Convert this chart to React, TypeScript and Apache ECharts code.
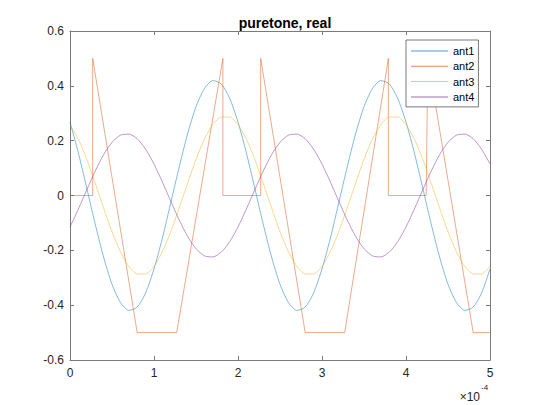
import React, { useEffect, useRef } from "react";
import * as echarts from "echarts";

const chartTitle = "puretone, real";
const seriesNames = ["ant1", "ant2", "ant3", "ant4"];
const seriesColors = ["#0072BD", "#D95319", "#EDB120", "#7E2F8E"];

// time in units of 1e-4 s
const timeAxis = [
  0, 0.1, 0.2, 0.3, 0.4, 0.5, 0.6, 0.7, 0.8, 0.9,
  1.0, 1.1, 1.2, 1.3, 1.4, 1.5, 1.6, 1.7, 1.8, 1.9,
  2.0, 2.1, 2.2, 2.3, 2.4, 2.5, 2.6, 2.7, 2.8, 2.9,
  3.0, 3.1, 3.2, 3.3, 3.4, 3.5, 3.6, 3.7, 3.8, 3.9,
  4.0, 4.1, 4.2, 4.3, 4.4, 4.5, 4.6, 4.7, 4.8, 4.9,
  5.0,
];

const ant1 = [
  0.268, 0.155, 0.026, -0.104, -0.225, -0.324, -0.39, -0.419, -0.407, -0.355,
  -0.268, -0.155, -0.026, 0.104, 0.225, 0.324, 0.39, 0.419, 0.407, 0.355,
  0.268, 0.155, 0.026, -0.104, -0.225, -0.324, -0.39, -0.419, -0.407, -0.355,
  -0.268, -0.155, -0.026, 0.104, 0.225, 0.324, 0.39, 0.419, 0.407, 0.355,
  0.268, 0.155, 0.026, -0.104, -0.225, -0.324, -0.39, -0.419, -0.407, -0.355,
  -0.268,
];

const ant2Time = [0, 0.27, 0.27, 0.8, 1.27, 1.82, 1.82, 2.27, 2.27, 2.8, 3.27, 3.79, 3.79, 4.24, 4.26, 4.8, 5.0];
const ant2 = [0, 0, 0.5, -0.5, -0.5, 0.5, 0, 0, 0.5, -0.5, -0.5, 0.5, 0, 0, 0.5, -0.5, -0.5];

const ant3 = [
  0.258, 0.205, 0.132, 0.045, -0.045, -0.132, -0.205, -0.258, -0.286, -0.286,
  -0.258, -0.205, -0.132, -0.045, 0.045, 0.132, 0.205, 0.258, 0.286, 0.286,
  0.258, 0.205, 0.132, 0.045, -0.045, -0.132, -0.205, -0.258, -0.286, -0.286,
  -0.258, -0.205, -0.132, -0.045, 0.045, 0.132, 0.205, 0.258, 0.286, 0.286,
  0.258, 0.205, 0.132, 0.045, -0.045, -0.132, -0.205, -0.258, -0.286, -0.286,
  -0.258,
];

const ant4 = [
  -0.115, -0.049, 0.021, 0.089, 0.149, 0.194, 0.22, 0.224, 0.207, 0.169,
  0.115, 0.049, -0.021, -0.089, -0.149, -0.194, -0.22, -0.224, -0.207, -0.169,
  -0.115, -0.049, 0.021, 0.089, 0.149, 0.194, 0.22, 0.224, 0.207, 0.169,
  0.115, 0.049, -0.021, -0.089, -0.149, -0.194, -0.22, -0.224, -0.207, -0.169,
  -0.115, -0.049, 0.021, 0.089, 0.149, 0.194, 0.22, 0.224, 0.207, 0.169,
  0.115,
];

const xMin = 0;
const xMax = 5;
const xStep = 1;
const yMin = -0.6;
const yMax = 0.6;
const yStep = 0.2;
const exponentBase = "×10";
const exponentPower = "-4";

const zip = (xs: number[], ys: number[]) => xs.map((x, i) => [x, ys[i]]);

export default function App() {
  const ref = useRef<HTMLDivElement>(null);
  useEffect(() => {
    if (!ref.current) return;
    const chart = echarts.init(ref.current, undefined, { renderer: "svg" });
    const axisColor = "#7a7a7a";
    const textColor = "#262626";
    const font = "Arial, 'Liberation Sans', Helvetica, sans-serif";
    const fmtY = (v: number) => {
      const r = Math.round(v * 10) / 10;
      return r === 0 ? "0" : String(r);
    };
    const dataSets = [
      zip(timeAxis, ant1),
      zip(ant2Time, ant2),
      zip(timeAxis, ant3),
      zip(timeAxis, ant4),
    ];
    chart.setOption({
      animation: false,
      backgroundColor: "#fff",
      title: {
        text: chartTitle,
        left: 280,
        textAlign: "center",
        top: 11,
        textStyle: { fontSize: 14, fontWeight: "bold", color: "#000", fontFamily: font },
      },
      grid: { left: 70, right: 50, top: 31, bottom: 45, show: false },
      legend: {
        data: seriesNames,
        orient: "vertical",
        left: 406,
        top: 40,
        padding: [5, 4, 4, 5],
        itemGap: 3.3,
        itemWidth: 37,
        itemHeight: 1,
        icon: "rect",
        backgroundColor: "#fff",
        borderColor: "#555",
        borderWidth: 0.8,
        textStyle: { fontSize: 11, color: "#000", fontFamily: font, lineHeight: 12 },
      },
      xAxis: [
        {
          type: "value",
          min: xMin,
          max: xMax,
          interval: xStep,
          position: "bottom",
          axisLine: { show: true, onZero: false, lineStyle: { color: axisColor, width: 1 } },
          axisTick: { show: true, inside: true, length: 4, lineStyle: { color: axisColor } },
          axisLabel: { color: textColor, fontSize: 12, margin: 7, fontFamily: font },
          splitLine: { show: false },
        },
        {
          type: "value",
          min: xMin,
          max: xMax,
          interval: xStep,
          position: "top",
          axisLine: { show: true, onZero: false, lineStyle: { color: axisColor, width: 1 } },
          axisTick: { show: true, inside: true, length: 4, lineStyle: { color: axisColor } },
          axisLabel: { show: false },
          splitLine: { show: false },
        },
      ],
      yAxis: [
        {
          type: "value",
          min: yMin,
          max: yMax,
          interval: yStep,
          position: "left",
          axisLine: { show: true, onZero: false, lineStyle: { color: axisColor, width: 1 } },
          axisTick: { show: true, inside: true, length: 4, lineStyle: { color: axisColor } },
          axisLabel: { color: textColor, fontSize: 12, margin: 6, fontFamily: font, formatter: fmtY },
          splitLine: { show: false },
        },
        {
          type: "value",
          min: yMin,
          max: yMax,
          interval: yStep,
          position: "right",
          axisLine: { show: true, onZero: false, lineStyle: { color: axisColor, width: 1 } },
          axisTick: { show: true, inside: true, length: 4, lineStyle: { color: axisColor } },
          axisLabel: { show: false },
          splitLine: { show: false },
        },
      ],
      graphic: [
        {
          type: "text",
          right: 60,
          top: 391,
          style: { text: exponentBase, fontSize: 12, fill: textColor, font: `12px ${font}` },
        },
        {
          type: "text",
          left: 481,
          top: 383,
          style: { text: exponentPower, fontSize: 8, fill: textColor, font: `8px ${font}` },
        },
      ],
      series: seriesNames.map((name, i) => ({
        name,
        type: "line",
        xAxisIndex: 0,
        yAxisIndex: 0,
        data: dataSets[i],
        symbol: "none",
        showSymbol: false,
        smooth: i === 1 ? false : 0.25,
        lineStyle: { color: seriesColors[i], width: 0.7, opacity: 0.7 },
        itemStyle: { color: seriesColors[i], opacity: 0.7 },
      })),
    });
    return () => chart.dispose();
  }, []);
  return (
    <div
      ref={ref}
      style={{ position: "fixed", left: 0, top: 0, width: 540, height: 405, background: "#fff" }}
    />
  );
}
